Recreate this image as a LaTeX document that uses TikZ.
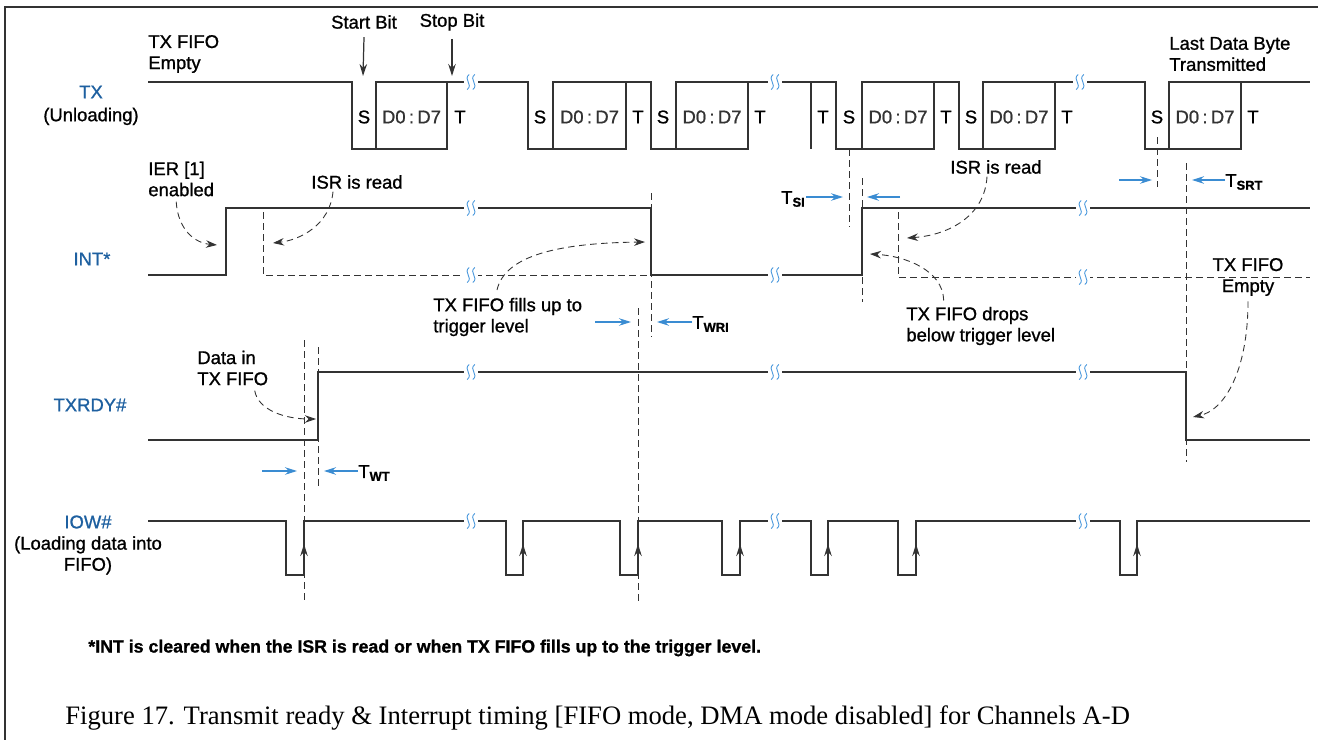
\documentclass[tikz,border=0pt]{standalone}
\usepackage{fontspec}
\setmainfont{Liberation Sans}[FakeBold=1]
\newfontfamily\capfont{Liberation Serif}
\usetikzlibrary{arrows,arrows.meta,positioning}
\newcommand{\tsub}[1]{T\textsubscript{\bfseries #1}}

\begin{document}
\begin{tikzpicture}[x=0.2mm,y=-0.2mm,line join=miter]
  % Colors
  \colorlet{wavecolor}{black!80}
  \definecolor{sigcolor}{RGB}{30,96,160}
  \definecolor{timecolor}{RGB}{58,140,210}
  \definecolor{breakcolor}{RGB}{70,150,220}

  % Styles
  \tikzstyle{wave}=[wavecolor,line width=0.7pt]
  \tikzstyle{edge arrow}=[wave,-{Stealth[length=2.4mm,width=1.5mm]}]
  \tikzstyle{guide}=[wavecolor,line width=0.5pt,dash pattern=on 1.3mm off 0.9mm]
  \tikzstyle{note arrow}=[guide,-{Stealth[length=2.2mm,width=1.5mm]}]
  \tikzstyle{timing arrow}=[timecolor,line width=0.6pt,-{Stealth[length=2.4mm,width=1.5mm]}]
  \tikzstyle{signal}=[sigcolor,font=\fontsize{10.5}{12}\selectfont,inner sep=0pt]
  \tikzstyle{info text}=[font=\fontsize{10.5}{12}\selectfont,align=left,inner sep=0pt]
  \tikzstyle{bit text}=[font=\fontsize{10.5}{12}\selectfont,inner sep=0pt]

  \useasboundingbox (0,0) rectangle (1318,740);

  % Frame
  \draw[wave] (5,740) -- (5,7) -- (1318,7);

  % Signal names
  \node[signal] (tx) at (91,92) {TX};
  \node[info text,below=5pt of tx] (txu) {(Unloading)};
  \node[signal] (int) at (92,259) {INT*};
  \node[signal] (txrdy) at (90,405) {TXRDY\#};
  \node[signal] (iow) at (88,522) {IOW\#};
  \node[info text,align=center,below=4pt of iow] (iowu) {(Loading data into\\FIFO)};

  % TX (Unloading)
  \draw[wave] (148,82) -- (352,82) -- (352,149) -- (376,149)
    (447,82) -- (528,82) -- (528,149) -- (553,149)
    (626,82) -- (651,82) -- (651,149) -- (676,149)
    (748,82) -- (836,82) -- (836,149) -- (862,149)
    (811,82) -- (811,149)
    (934,82) -- (959,82) -- (959,149) -- (983,149)
    (1055,82) -- (1145,82) -- (1145,149) -- (1169,149)
    (1241,82) -- (1310,82);
  \foreach \a/\b in {376/447,553/626,676/748,862/934,983/1055,1169/1241}
    \draw[wave] (\a,82) rectangle (\b,149)
      node[bit text] at ({(\a+\b)/2},117) {D0\hspace{0.18em}:\hspace{0.18em}D7};
  \foreach \x in {364,540,663,849,971,1157}
    \node[bit text] at (\x,117) {S};
  \foreach \x in {460,638,760,823,946,1067,1253}
    \node[bit text] at (\x,117) {T};

  \node[info text,align=center] (startbit) at (364,22) {Start Bit};
  \node[info text,align=center] (stopbit) at (452,22) {Stop Bit};
  \draw[edge arrow] (startbit.south) ++(0,8) -- (363,76);
  \draw[edge arrow] (stopbit.south) ++(0,8) -- (452,76);
  \node[info text,anchor=west] (emptyA) at (148,54) {TX FIFO\\Empty};
  \node[info text,anchor=west] (lastbyte) at (1169,54) {Last Data Byte\\Transmitted};

  % INT*
  \draw[wave] (148,275) -- (226,275) -- (226,208) -- (651,208) -- (651,275)
    -- (862,275) -- (862,208) -- (1310,208);
  \draw[guide] (263,212) -- (263,275) -- (651,275);
  \draw[guide] (898,212) -- (898,277) -- (1310,277);

  % TXRDY#
  \draw[wave] (148,440) -- (318,440) -- (318,372) -- (1186,372) -- (1186,440) -- (1310,440);

  % IOW#
  \draw[wave] (148,521)
    \foreach \a/\b in {286/304,506/523,620/638,722/740,811/828,898/916,1120/1137}
      { -- (\a,521) -- (\a,575) -- (\b,575) -- (\b,521) } -- (1310,521);
  \foreach \b in {304,523,638,740,828,916,1137}
    \draw[edge arrow] (\b,568) -- (\b,544);

  % Guide lines
  \foreach \x/\ya/\yb in {651/193/337,638/308/605,304/340/602,318/347/490,
                          849/149/227,862/178/302,1157/137/187,1186/163/462}
    \draw[guide] (\x,\ya) -- (\x,\yb);

  % Break marks
  \foreach \x/\y in {471/82,775/82,1080/82,471/208,1083/208,471/275,775/275,1083/277,
                     471/372,775/372,1083/372,471/521,775/521,1083/521}
  {
    \fill[white] ({\x-7},{\y-2.5}) rectangle ({\x+7},{\y+2.5});
    \foreach \d in {-2.8,2.8}
      \draw[breakcolor,line width=0.5pt] ({\x+\d+1},{\y-7.5})
        .. controls ({\x+\d-5.5},{\y-2.5}) and ({\x+\d+5.5},{\y+2.5}) .. ({\x+\d-1},{\y+7.5});
  }

  % Timing labels
  \node[bit text,anchor=east] (tsi) at (806,199) {\tsub{SI}};
  \draw[timing arrow] (tsi.east) ++(0,-2) -- (843,197);
  \draw[timing arrow] (900,197) -- (867,197);
  \node[bit text,anchor=west] (twri) at (692,324) {\tsub{WRI}};
  \draw[timing arrow] (595,322) -- (631,322);
  \draw[timing arrow] (twri.west) ++(0,-2) -- (657,322);
  \node[bit text,anchor=west] (twt) at (358,473) {\tsub{WT}};
  \draw[timing arrow] (262,471) -- (297,471);
  \draw[timing arrow] (twt.west) ++(0,-2) -- (324,471);
  \node[bit text,anchor=west] (tsrt) at (1225,182) {\tsub{SRT}};
  \draw[timing arrow] (1119,180) -- (1152,180);
  \draw[timing arrow] (tsrt.west) ++(0,-2) -- (1192,180);

  % Notes
  \node[info text,anchor=west] (ier) at (148,179) {IER [1]\\enabled};
  \draw[note arrow] ([xshift=-1mm,yshift=-1mm]ier.south) .. controls (178,230) and (195,243) .. (217,245);
  \node[info text] (isrA) at (357,182) {ISR is read};
  \draw[note arrow] ([xshift=-4.8mm,yshift=-0.5mm]isrA.south) .. controls (330,225) and (300,240) .. (273,243);
  \node[info text,anchor=west] (fills) at (433,317) {TX FIFO fills up to\\trigger level};
  \draw[note arrow] ([xshift=12.8mm,yshift=1.5mm]fills.north west) .. controls (505,255) and (560,243) .. (645,242);
  \node[info text,anchor=west] (isrB) at (950,167) {ISR is read};
  \draw[note arrow] ([xshift=-1.8mm,yshift=-0.5mm]isrB.south) .. controls (985,215) and (950,235) .. (907,238);
  \node[info text,anchor=west] (drops) at (906,326) {TX FIFO drops\\below trigger level};
  \draw[note arrow] ([xshift=-7.4mm,yshift=1.2mm]drops.north) .. controls (943,270) and (905,256) .. (870,254);
  \node[info text,align=center] (emptyB) at (1248,277) {TX FIFO\\Empty};
  \draw[note arrow] ([yshift=-1mm]emptyB.south) .. controls (1248,370) and (1225,410) .. (1193,417);
  \node[info text,anchor=west] (datain) at (197,368) {Data in\\TX FIFO};
  \draw[note arrow] ([xshift=4.4mm,yshift=-1mm]datain.south) .. controls (258,410) and (285,419) .. (316,419);

  % Footnote and caption
  \node[anchor=west,inner sep=0pt,font=\bfseries\fontsize{10.1}{11}\selectfont] (note) at (88,648)
    {*INT is cleared when the ISR is read or when TX FIFO fills up to the trigger level.};
  \node[anchor=west,inner sep=0pt,font=\capfont\fontsize{15.15}{18}\selectfont] (caption) at (65,718)
    {Figure 17. Transmit ready \& Interrupt timing [FIFO mode, DMA mode disabled] for Channels A-D};
\end{tikzpicture}
\end{document}
